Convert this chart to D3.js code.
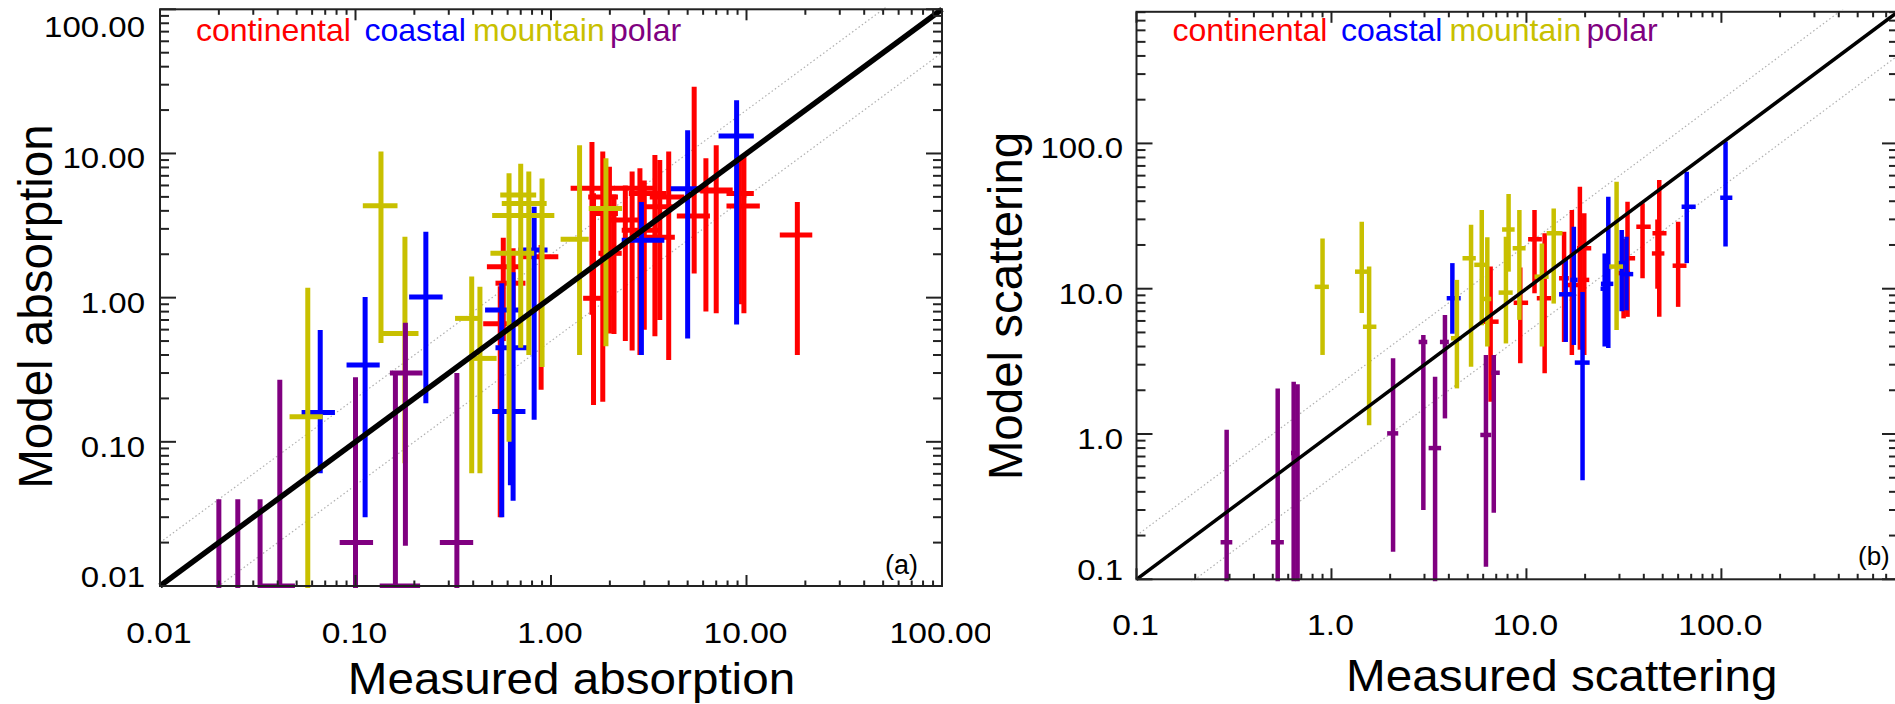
<!DOCTYPE html>
<html>
<head>
<meta charset="utf-8">
<script src="https://cdn.jsdelivr.net/npm/d3@7"></script>
<style>
  html, body { margin: 0; padding: 0; background: #fff; }
  svg { display: block; }
</style>
</head>
<body>
<svg id="fig" width="1895" height="704"></svg>
<script>
// Site categories and their colours
const siteTypes = ["continental", "coastal", "mountain", "polar"];
const siteColors = ["#ff0000", "#0000ff", "#c8c000", "#800080"];

// Each row: [measured, measured low, measured high, model, model low, model high]
// Panel (a): absorption
const absContinental = [
  [0.57, 0.47, 0.70, 1.64, 0.50, 2.6],
  [0.55, 0.45, 0.70, 0.66, 0.03, 1.2],
  [0.64, 0.52, 0.74, 1.26, 0.85, 2.2],
  [0.89, 0.71, 1.09, 1.92, 0.23, 2.32],
  [1.62, 1.26, 2.12, 5.73, 0.76, 12.0],
  [1.65, 1.46, 2.04, 0.99, 0.18, 5.3],
  [1.84, 1.55, 2.20, 5.0, 0.19, 10.3],
  [1.99, 1.60, 2.20, 3.84, 0.565, 8.1],
  [2.10, 1.75, 2.30, 2.03, 0.56, 5.2],
  [2.40, 2.00, 3.00, 3.45, 0.50, 6.0],
  [2.60, 2.10, 3.40, 5.73, 0.43, 7.5],
  [2.85, 2.30, 3.60, 2.94, 0.40, 7.9],
  [3.00, 2.50, 3.90, 5.28, 0.60, 6.5],
  [3.40, 2.80, 4.20, 4.27, 0.54, 9.75],
  [3.60, 2.90, 4.30, 2.62, 0.70, 9.0],
  [4.00, 3.20, 4.80, 5.0, 0.37, 10.3],
  [5.40, 4.40, 6.50, 3.68, 1.47, 29],
  [6.20, 5.20, 8.50, 5.57, 0.80, 9.25],
  [7.00, 5.80, 8.30, 5.5, 0.78, 11.4],
  [9.70, 7.90, 11.7, 4.32, 0.78, 9.5],
  [9.20, 7.90, 10.9, 5.28, 0.90, 9.0],
  [18.2, 14.8, 21.7, 2.72, 0.40, 4.6]
];
const absCoastal = [
  [0.066, 0.053, 0.0785, 0.16, 0.0605, 0.596],
  [0.112, 0.090, 0.133, 0.341, 0.030, 1.01],
  [0.229, 0.188, 0.279, 1.01, 0.185, 2.86],
  [0.56, 0.46, 0.70, 0.82, 0.030, 1.26],
  [0.64, 0.52, 0.78, 0.45, 0.039, 1.5],
  [0.62, 0.50, 0.74, 0.162, 0.05, 0.8],
  [0.82, 0.68, 0.96, 2.14, 0.142, 4.27],
  [2.9, 2.3, 3.8, 2.5, 0.40, 4.6],
  [5.0, 4.1, 5.8, 5.7, 0.52, 14.5],
  [8.9, 7.2, 10.9, 13.2, 0.65, 23.4]
];
const absMountain = [
  [0.057, 0.046, 0.068, 0.149, 0.004, 1.17],
  [0.135, 0.109, 0.164, 4.34, 0.484, 10.3],
  [0.179, 0.133, 0.21, 0.565, 0.071, 2.64],
  [0.393, 0.323, 0.425, 0.718, 0.0605, 1.40],
  [0.433, 0.385, 0.527, 0.379, 0.0605, 1.19],
  [0.61, 0.49, 0.82, 2.03, 0.10, 7.3],
  [0.70, 0.55, 0.84, 5.15, 0.45, 8.5],
  [0.77, 0.56, 0.95, 4.5, 0.40, 7.5],
  [0.90, 0.50, 1.04, 3.72, 0.33, 6.7],
  [1.40, 1.12, 1.56, 2.54, 0.40, 11.4],
  [1.91, 1.56, 2.31, 4.16, 0.46, 9.25]
];
const absPolar = [
  [0.020, 0.020, 0.020, 0.005, 0.002, 0.040],
  [0.025, 0.025, 0.025, 0.005, 0.002, 0.040],
  [0.0325, 0.0325, 0.0325, 0.005, 0.002, 0.040],
  [0.041, 0.0325, 0.049, 0.010, 0.002, 0.27],
  [0.10, 0.083, 0.123, 0.020, 0.002, 0.28],
  [0.16, 0.133, 0.214, 0.010, 0.002, 0.30],
  [0.18, 0.15, 0.22, 0.30, 0.019, 0.67],
  [0.33, 0.27, 0.40, 0.020, 0.002, 0.30]
];

// Panel (b): scattering
const scaContinental = [
  [6.55, 6.0, 7.2, 5.93, 1.67, 14.2],
  [9.3, 8.6, 10.2, 8.0, 3.07, 14.0],
  [11.0, 10.2, 12.0, 21.9, 9.3, 34.8],
  [12.4, 11.3, 13.4, 8.6, 2.62, 24.1],
  [15.6, 14.7, 16.5, 11.8, 4.3, 24.7],
  [17.1, 16.0, 18.8, 10.6, 3.5, 34.8],
  [18.8, 18.2, 21.5, 19.0, 3.8, 50.4],
  [19.8, 18.5, 21.0, 11.5, 3.5, 33.0],
  [31.5, 29.5, 34.0, 12.8, 6.25, 22.0],
  [33.0, 30.6, 36.1, 16.2, 6.4, 39.7],
  [39.4, 36.6, 43.4, 26.7, 11.8, 38.7],
  [48.0, 44.3, 52.3, 24.1, 6.4, 56.0],
  [47.0, 44.0, 51.0, 17.5, 10.0, 30.0],
  [60.0, 56.2, 66.2, 14.4, 7.5, 28.9]
];
const scaCoastal = [
  [4.17, 3.9, 4.6, 8.6, 4.9, 15.0],
  [15.9, 14.7, 17.5, 9.15, 4.3, 15.8],
  [17.5, 16.8, 18.3, 11.5, 4.1, 26.7],
  [19.4, 17.7, 21.1, 3.1, 0.48, 9.5],
  [25.2, 24.0, 26.5, 10.0, 4.0, 17.5],
  [26.3, 24.1, 27.9, 10.8, 3.9, 43.0],
  [30.8, 29.5, 32.0, 15.0, 7.0, 25.4],
  [32.6, 30.4, 35.3, 12.6, 7.1, 22.8],
  [66.4, 62.5, 73.8, 36.6, 15.0, 63.9],
  [105, 98.6, 113.8, 42.3, 19.5, 103]
];
const scaMountain = [
  [0.90, 0.82, 0.97, 10.3, 3.5, 22.2],
  [1.43, 1.32, 1.58, 13.1, 6.8, 28.9],
  [1.56, 1.45, 1.70, 5.47, 1.15, 14.2],
  [4.4, 4.1, 4.65, 4.56, 2.06, 11.5],
  [5.2, 4.7, 5.5, 16.2, 2.9, 27.5],
  [5.9, 5.4, 6.4, 14.6, 5.6, 34.8],
  [6.3, 6.0, 6.6, 8.5, 4.0, 22.6],
  [7.85, 7.2, 8.5, 9.4, 4.2, 22.8],
  [8.1, 7.5, 8.7, 25.6, 13.1, 44.9],
  [9.2, 8.5, 9.9, 19.0, 6.1, 34.8],
  [12.0, 11.0, 13.0, 12.1, 4.0, 20.5],
  [13.8, 12.7, 15.3, 24.1, 7.9, 35.7],
  [29.0, 26.6, 31.3, 14.2, 5.2, 54.5]
];
const scaPolar = [
  [0.29, 0.27, 0.31, 0.18, 0.05, 1.07],
  [0.53, 0.49, 0.57, 0.18, 0.05, 2.06],
  [0.64, 0.62, 0.68, 0.74, 0.05, 2.29],
  [0.67, 0.67, 0.67, 0.06, 0.03, 2.2],
  [2.07, 1.93, 2.2, 1.01, 0.155, 3.32],
  [2.96, 2.8, 3.1, 4.3, 0.30, 4.8],
  [3.4, 3.15, 3.65, 0.80, 0.05, 2.48],
  [3.82, 3.6, 4.0, 4.3, 1.28, 6.59],
  [6.2, 5.8, 6.6, 0.985, 0.122, 3.5],
  [6.8, 6.6, 7.3, 2.64, 0.287, 3.5]
];

// Decade tick labels
const absTickLabels = ["0.01", "0.10", "1.00", "10.00", "100.00"];
const scaTickLabels = ["0.1", "1.0", "10.0", "100.0"];

// Axis ranges
const absRange = [0.01, 100];
const scaRange = [0.1, 805];

// Factor-of-two guide lines
const guideFactors = [2, 0.5];

const FONT = "'Liberation Sans', Arial, Helvetica, sans-serif";
const svg = d3.select("#fig");

function addText(g, str, x, y, opts) {
  const o = Object.assign({size: 30, anchor: "start", sx: 1, color: "#000", rotate: 0}, opts);
  return g.append("text")
    .attr("transform", `translate(${x},${y}) rotate(${o.rotate}) scale(${o.sx},1)`)
    .attr("text-anchor", o.anchor)
    .attr("font-family", FONT)
    .attr("font-size", o.size)
    .attr("fill", o.color)
    .text(str);
}

function drawPanel(cfg) {
  const g = svg.append("g");
  if (cfg.bgX !== undefined) {
    g.append("rect").attr("x", cfg.bgX).attr("y", 0)
      .attr("width", 1895 - cfg.bgX).attr("height", 704).attr("fill", "#fff");
  }
  const x = d3.scaleLog().domain(cfg.domain).range([cfg.left, cfg.right]);
  const y = d3.scaleLog().domain(cfg.domain).range([cfg.bottom, cfg.top]);

  const clipId = "clip-" + cfg.id;
  g.append("clipPath").attr("id", clipId).append("rect")
    .attr("x", cfg.left - 2).attr("y", cfg.top - 2)
    .attr("width", cfg.right - cfg.left + 4).attr("height", cfg.bottom - cfg.top + 4);
  const plot = g.append("g").attr("clip-path", `url(#${clipId})`);

  // dotted factor-of-two lines
  const [lo, hi] = cfg.domain;
  guideFactors.forEach(f => {
    plot.append("line")
      .attr("x1", x(lo)).attr("y1", y(lo * f))
      .attr("x2", x(hi)).attr("y2", y(hi * f))
      .attr("stroke", "#b0b0b0").attr("stroke-width", 1.2)
      .attr("stroke-dasharray", "1.5,2.5");
  });

  // error crosses, one group per site type
  cfg.series.forEach((rows, i) => {
    const sg = plot.append("g").attr("stroke", siteColors[i])
      .attr("stroke-width", cfg.barWidth).attr("stroke-linecap", "butt");
    sg.selectAll("line.v").data(rows).join("line").attr("class", "v")
      .attr("x1", d => x(d[0])).attr("x2", d => x(d[0]))
      .attr("y1", d => y(d[4])).attr("y2", d => y(d[5]));
    sg.selectAll("line.h").data(rows).join("line").attr("class", "h")
      .attr("x1", d => x(d[1])).attr("x2", d => x(d[2]))
      .attr("y1", d => y(d[3])).attr("y2", d => y(d[3]));
  });

  // 1:1 line
  plot.append("line")
    .attr("x1", x(lo)).attr("y1", y(lo))
    .attr("x2", x(hi)).attr("y2", y(hi))
    .attr("stroke", "#000").attr("stroke-width", cfg.diagWidth);

  // frame
  const axisColor = "#222";
  g.append("rect").attr("x", cfg.left).attr("y", cfg.top)
    .attr("width", cfg.right - cfg.left).attr("height", cfg.bottom - cfg.top)
    .attr("fill", "none").attr("stroke", axisColor).attr("stroke-width", 2);

  // log ticks on all four sides
  const ticks = [];
  const e0 = Math.floor(Math.log10(lo) + 1e-9);
  const e1 = Math.ceil(Math.log10(hi));
  for (let e = e0; e <= e1; e++) {
    for (let m = 1; m <= 9; m++) {
      const v = m * Math.pow(10, e);
      if (v >= lo * 0.999 && v <= hi * 1.001) ticks.push({v, major: m === 1});
    }
  }
  const tg = g.append("g").attr("stroke", axisColor).attr("stroke-width", 2);
  ticks.forEach(t => {
    const lx = t.major ? 11 : 5.5;
    const ly = t.major ? 16 : 9;
    const px = x(t.v), py = y(t.v);
    tg.append("line").attr("x1", px).attr("x2", px).attr("y1", cfg.bottom).attr("y2", cfg.bottom - lx);
    tg.append("line").attr("x1", px).attr("x2", px).attr("y1", cfg.top).attr("y2", cfg.top + lx);
    tg.append("line").attr("y1", py).attr("y2", py).attr("x1", cfg.left).attr("x2", cfg.left + ly);
    tg.append("line").attr("y1", py).attr("y2", py).attr("x1", cfg.right).attr("x2", cfg.right - ly);
  });

  // decade labels
  cfg.labels.forEach((lab, i) => {
    const v = lo * Math.pow(10, i);
    addText(g, lab, x(v) - 1, cfg.bottom + cfg.xLabelOffset, {size: 30, anchor: "middle", sx: 1.12});
    const by = Math.min(Math.max(y(v) + 15, cfg.top + 28), cfg.bottom + 1);
    addText(g, lab, cfg.left - cfg.yLabelGap, by, {size: 30, anchor: "end", sx: 1.1});
  });

  // axis titles
  addText(g, cfg.xTitle, cfg.xTitlePos[0], cfg.xTitlePos[1], {size: 44.5, anchor: "middle", sx: 1.07});
  addText(g, cfg.yTitle, cfg.yTitlePos[0], cfg.yTitlePos[1], {size: 47.5, anchor: "middle", rotate: -90});

  // legend
  siteTypes.forEach((name, i) => {
    addText(g, name, cfg.left + cfg.legendOffsets[i], cfg.legendY, {size: 30.5, sx: 1.05, color: siteColors[i]});
  });

  // panel tag
  addText(g, cfg.tag, cfg.tagPos[0], cfg.tagPos[1], {size: cfg.tagSize});
}

const legendOffsets = [36, 204.5, 313, 450];

drawPanel({
  id: "a", left: 160, right: 942, top: 9.3, bottom: 586, domain: absRange,
  labels: absTickLabels,
  series: [absContinental, absCoastal, absMountain, absPolar],
  barWidth: 5, diagWidth: 5.5,
  xLabelOffset: 57, yLabelGap: 15,
  xTitle: "Measured absorption", yTitle: "Model absorption",
  xTitlePos: [571.5, 694], yTitlePos: [52, 306.5],
  legendOffsets, legendY: 40.5,
  tag: "(a)", tagPos: [885, 574], tagSize: 27
});

drawPanel({
  id: "b", bgX: 990, left: 1136.5, right: 1898, top: 11.8, bottom: 579.3, domain: scaRange,
  labels: scaTickLabels,
  series: [scaContinental, scaCoastal, scaMountain, scaPolar],
  barWidth: 4.5, diagWidth: 3.5,
  xLabelOffset: 56, yLabelGap: 13.5,
  xTitle: "Measured scattering", yTitle: "Model scattering",
  xTitlePos: [1561.7, 691], yTitlePos: [1022, 306],
  legendOffsets, legendY: 40.5,
  tag: "(b)", tagPos: [1858, 565], tagSize: 26
});
</script>
</body>
</html>
